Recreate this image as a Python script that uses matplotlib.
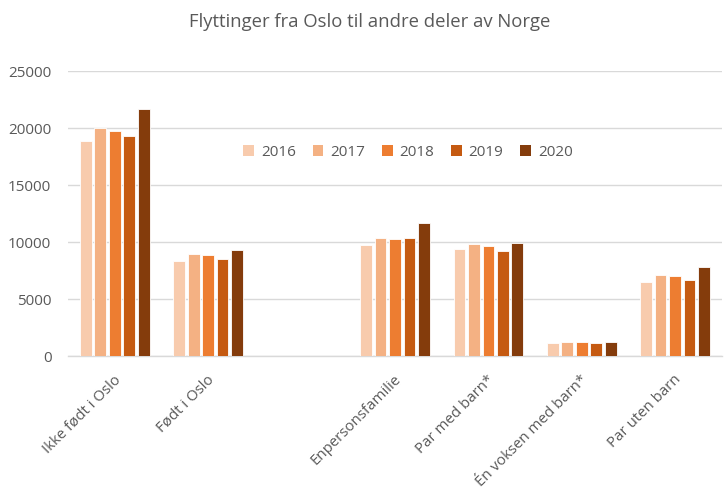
import matplotlib
matplotlib.use("Agg")
import matplotlib.pyplot as plt
import numpy as np
from matplotlib.patches import Patch
from matplotlib.transforms import ScaledTranslation

plt.rcParams['font.family'] = ['Open Sans', 'DejaVu Sans']

categories = ["Ikke født i Oslo", "Født i Oslo", "", "Enpersonsfamilie",
              "Par med barn*", "Én voksen med barn*", "Par uten barn"]
years = ["2016", "2017", "2018", "2019", "2020"]
v2016 = [18880, 8330, np.nan, 9760, 9410, 1195, 6520]
v2017 = [20050, 8970, np.nan, 10400, 9880, 1280, 7130]
v2018 = [19760, 8880, np.nan, 10290, 9670, 1220, 7070]
v2019 = [19290, 8530, np.nan, 10400, 9210, 1140, 6720]
v2020 = [21660, 9320, np.nan, 11690, 9960, 1220, 7860]
series = [v2016, v2017, v2018, v2019, v2020]
colors = ["#F8CBAD", "#F4B183", "#ED7D31", "#C55A11", "#843C0C"]
yticks = [0, 5000, 10000, 15000, 20000, 25000]

fig = plt.figure(figsize=(7.24, 4.9), dpi=100)
ax = fig.add_axes([0.094, 0.273, 0.903, 0.582])

x = np.arange(len(categories))
step = 0.155
width = 0.125
for i, (vals, c, yr) in enumerate(zip(series, colors, years)):
    ax.bar(x + (i - 2) * step, vals, width=width, color=c, edgecolor='white',
           linewidth=0.6, label=yr, zorder=3)

ax.set_xlim(-0.5, len(categories) - 0.5)
ax.set_ylim(0, 25000)
ax.set_yticks(yticks)
ax.set_yticklabels([str(t) for t in yticks])
ax.yaxis.grid(True, color='#D9D9D9', linewidth=1.0, zorder=0)
ax.set_axisbelow(True)
for s in ['top', 'right', 'left']:
    ax.spines[s].set_visible(False)
ax.spines['bottom'].set_color('#D9D9D9')
ax.spines['bottom'].set_linewidth(1.0)
ax.tick_params(axis='y', length=0, labelsize=11, colors='#595959', pad=12)
ax.tick_params(axis='x', length=0, labelsize=10.8, colors='#595959')
ax.set_xticks(x)
ax.set_xticklabels(categories, rotation=45, ha='right', rotation_mode='anchor')
off = ScaledTranslation(-1 / 72, -8 / 72, fig.dpi_scale_trans)
for lbl in ax.get_xticklabels():
    lbl.set_transform(lbl.get_transform() + off)

handles = [Patch(facecolor=c, edgecolor='none', label=y) for c, y in zip(colors, years)]
ax.legend(handles=handles, loc='center', bbox_to_anchor=(0.52, 0.716), ncol=5,
          frameon=False, fontsize=11, labelcolor='#595959', handlelength=0.7,
          handleheight=0.7, handletextpad=0.45, columnspacing=1.1)

fig.text(0.51, 0.955, "Flyttinger fra Oslo til andre deler av Norge", ha='center',
         va='center', fontsize=13.3, color='#595959')

fig.savefig("out.png", dpi=100)
